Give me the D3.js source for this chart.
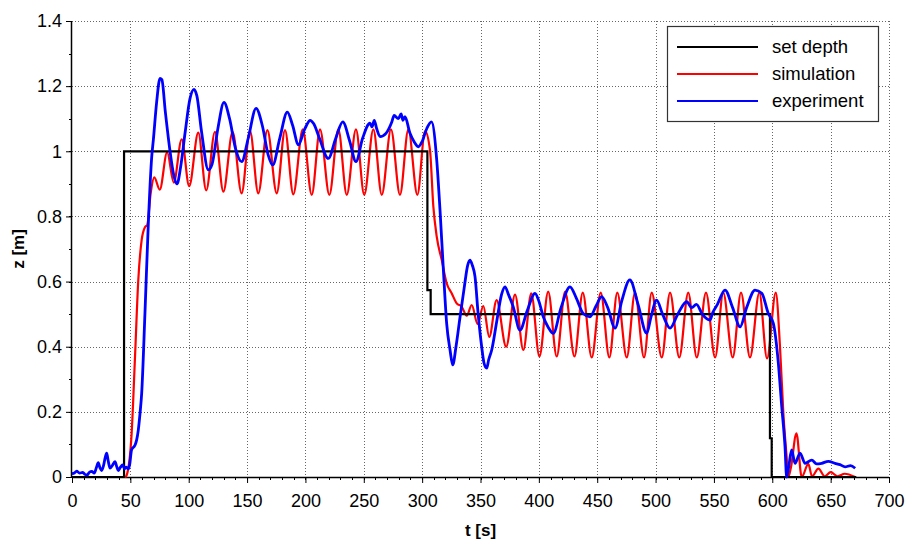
<!DOCTYPE html>
<html>
<head>
<meta charset="utf-8">
<script src="https://cdn.jsdelivr.net/npm/d3@7"></script>
<style>
  body { margin: 0; background: #fff; }
  svg { display: block; font-family: "Liberation Sans", Arial, sans-serif; }
</style>
</head>
<body>
<svg id="chart" width="908" height="543"></svg>
<script>
// set depth (step profile)
var setT = [0, 44.6, 44.6, 304.5, 304.5, 307.3, 307.3, 598, 598, 599.5, 599.5, 672];
var setZ = [0, 0, 1, 1, 0.574, 0.574, 0.5, 0.5, 0.119, 0.119, 0, 0];

// simulation
var simT = [0, 46, 46.8, 51.1, 54, 56.8, 59.7, 62.5, 64.5, 67.4, 70.5, 75.2, 81.5, 87.2, 94, 100.4,
  108.2, 115, 122.5, 129.7, 137.6, 145.3, 152.5, 159.6, 167.4, 175.4, 182.5, 189.6, 197.7, 205.4,
  212.5, 220.5, 228.2, 235.4, 243.3, 250.4, 258.2, 265.4, 273.3, 281, 288.2, 295.9, 302.5, 306.7,
  309.6, 312.5, 316.8, 321, 325.3, 329.6, 333.9, 338.2, 342.5, 347.5, 352.4, 357.5, 363.8, 372,
  379.6, 386.7, 393.5, 400.5, 408, 415.3, 422.5, 430.5, 437.6, 445.3, 453, 460.4, 467.2, 475.3,
  482.4, 490.1, 496.7, 505.3, 512.4, 520.3, 528, 535.3, 543.2, 551, 558, 566.1, 573.2, 580.9,
  588.9, 595.5, 603, 606.6, 609.5, 612.3, 613.7, 616, 620.7, 625.2, 630.9, 634, 639.5, 645, 650,
  656, 662, 671];
var simZ = [0, 0, 0.005, 0.134, 0.37, 0.605, 0.728, 0.767, 0.774, 0.871, 0.92, 0.882, 0.997, 0.904,
  1.037, 0.893, 1.057, 0.88, 1.06, 0.876, 1.06, 0.871, 1.063, 0.871, 1.065, 0.871, 1.065, 0.868,
  1.067, 0.866, 1.067, 0.866, 1.067, 0.866, 1.067, 0.866, 1.067, 0.866, 1.067, 0.866, 1.067, 0.866,
  1.062, 1.004, 0.83, 0.738, 0.666, 0.595, 0.564, 0.533, 0.523, 0.495, 0.528, 0.47, 0.525, 0.43,
  0.543, 0.40, 0.56, 0.39, 0.564, 0.37, 0.569, 0.37, 0.569, 0.37, 0.566, 0.367, 0.566, 0.367,
  0.566, 0.367, 0.566, 0.367, 0.566, 0.367, 0.566, 0.367, 0.566, 0.367, 0.566, 0.367, 0.566,
  0.367, 0.566, 0.367, 0.566, 0.364, 0.566, 0.40, 0.195, 0.062, 0.0, 0.03, 0.134, 0.0, 0.04,
  0.002, 0.026, 0.002, 0.015, 0.002, 0.01, 0];

// experiment
var expT = [0, 2, 4, 6.5, 9.3, 11, 13, 15, 17, 19, 21, 22.5, 24, 25.4, 27, 28.5, 29.7, 31, 32.6,
  34.5, 36.8, 38.5, 39.7, 41.5, 43.4, 45, 46.3, 48.3, 49.5, 51, 54, 55.4, 56.8, 58.3, 59.7, 62.5,
  65.4, 68.3, 69.7, 72.5, 75.4, 77, 80, 84, 87, 90, 93, 97, 101, 104.5, 107, 111, 116.8, 120, 125,
  130.2, 135, 140, 145.4, 151, 157.7, 163, 168, 172, 178, 184.5, 189, 194, 199, 201, 204, 207, 212,
  219.6, 226, 232, 238, 243.3, 249, 255.3, 257, 259, 261, 264, 269, 274, 276, 279.6, 282, 283.5,
  285.3, 289.6, 293, 296.7, 300, 304, 308, 312.5, 315.3, 318.2, 321, 323.9, 326.2, 329, 332.5,
  336, 339, 341, 343, 345.3, 348, 351, 353, 355.3, 357, 359.6, 364, 368, 371, 374, 378, 383.8, 390,
  396.7, 400, 403.8, 408, 412.4, 419, 426.7, 432, 438, 443.8, 449, 453.8, 459, 465.3, 471, 478,
  485, 492.4, 496, 500.9, 506, 512.4, 519, 526.7, 531, 535, 540, 546.6, 549, 553, 559.5, 566,
  572.4, 578, 585.2, 591, 596.6, 600.9, 605.2, 608.1, 610.9, 612.3, 614, 616.6, 619.5, 623.8,
  628.1, 633.8, 638, 642.3, 648, 653.8, 658, 662.4, 667, 671];
var expZ = [0.01, 0.012, 0.018, 0.012, 0.014, 0.008, 0.006, 0.015, 0.017, 0.012, 0.03, 0.044, 0.028,
  0.02, 0.035, 0.06, 0.073, 0.05, 0.027, 0.035, 0.047, 0.03, 0.02, 0.03, 0.037, 0.025, 0.03, 0.025,
  0.04, 0.083, 0.098, 0.114, 0.144, 0.196, 0.257, 0.502, 0.779, 0.983, 1.035, 1.15, 1.224, 1.22,
  1.12, 1.0, 0.93, 0.9, 0.95, 1.06, 1.16, 1.19, 1.17, 1.06, 0.943, 0.96, 1.07, 1.15, 1.1, 1.01,
  0.968, 1.04, 1.132, 1.08, 0.99, 0.958, 1.04, 1.12, 1.08, 1.02, 1.065, 1.08, 1.095, 1.085, 1.04,
  0.978, 1.04, 1.09, 1.03, 0.968, 1.04, 1.086, 1.075, 1.095, 1.07, 1.045, 1.055, 1.09, 1.11, 1.1,
  1.115, 1.095, 1.106, 1.055, 1.03, 1.014, 1.03, 1.07, 1.09, 0.973, 0.82, 0.636, 0.472, 0.39,
  0.344, 0.4, 0.492, 0.58, 0.65, 0.666, 0.65, 0.615, 0.5, 0.40, 0.35, 0.334, 0.36, 0.39, 0.48,
  0.56, 0.584, 0.56, 0.523, 0.451, 0.51, 0.564, 0.54, 0.492, 0.46, 0.441, 0.52, 0.584, 0.55,
  0.502, 0.492, 0.525, 0.554, 0.52, 0.457, 0.54, 0.605, 0.53, 0.441, 0.49, 0.543, 0.5, 0.457,
  0.5, 0.538, 0.52, 0.53, 0.5, 0.482, 0.505, 0.53, 0.574, 0.52, 0.461, 0.52, 0.574, 0.564, 0.502,
  0.472, 0.349, 0.216, 0.093, 0.0, 0.03, 0.083, 0.042, 0.073, 0.042, 0.052, 0.04, 0.042, 0.048,
  0.042, 0.038, 0.031, 0.035, 0.027];

var xTicks = [0, 50, 100, 150, 200, 250, 300, 350, 400, 450, 500, 550, 600, 650, 700];
var yTicks = [0, 0.2, 0.4, 0.6, 0.8, 1, 1.2, 1.4];
var seriesNames = ["set depth", "simulation", "experiment"];
var seriesColors = ["#000000", "#ff0000", "#0000ff"];

var svg = d3.select("#chart");
var margin = { top: 21, right: 19, bottom: 66, left: 72 };
var width = 908 - margin.left - margin.right,
    height = 543 - margin.top - margin.bottom;

var x = d3.scaleLinear().domain([0, 700]).range([0, width]);
var y = d3.scaleLinear().domain([0, 1.4]).range([height, 0]);

var g = svg.append("g").attr("transform", "translate(" + margin.left + "," + margin.top + ")");

// grid
var grid = g.append("g")
  .attr("stroke", "#666")
  .attr("stroke-width", 1)
  .attr("stroke-dasharray", "1,2");
grid.selectAll(".gx").data(xTicks.slice(1)).enter().append("line")
  .attr("x1", d => Math.round(x(d)) + 0.5).attr("x2", d => Math.round(x(d)) + 0.5)
  .attr("y1", 0).attr("y2", height);
grid.selectAll(".gy").data(yTicks.slice(1)).enter().append("line")
  .attr("y1", d => Math.round(y(d)) + 0.5).attr("y2", d => Math.round(y(d)) + 0.5)
  .attr("x1", 0).attr("x2", width);

// axes
var xMinor = d3.range(0, 701, 10);
var yMinor = d3.range(0, 1.41, 0.1);

var gx = g.append("g").attr("transform", "translate(0," + height + ")");
gx.selectAll(".mt").data(xMinor).enter().append("line")
  .attr("x1", d => Math.round(x(d)) + 0.5).attr("x2", d => Math.round(x(d)) + 0.5)
  .attr("y1", 0).attr("y2", 3).attr("stroke", "#000");
gx.call(d3.axisBottom(x).tickValues(xTicks).tickSize(6).tickPadding(11).tickFormat(d3.format("")))
  .call(a => a.select(".domain").remove());
gx.append("line").attr("x1", 0).attr("x2", width).attr("y1", 0.5).attr("y2", 0.5)
  .attr("stroke", "#000").attr("stroke-width", 1.5);

var gy = g.append("g");
gy.selectAll(".mt").data(yMinor).enter().append("line")
  .attr("y1", d => Math.round(y(d)) + 0.5).attr("y2", d => Math.round(y(d)) + 0.5)
  .attr("x1", 0).attr("x2", -3).attr("stroke", "#000");
gy.call(d3.axisLeft(y).tickValues(yTicks).tickSize(6).tickPadding(4).tickFormat(d3.format("")))
  .call(a => a.select(".domain").remove());
gy.append("line").attr("x1", -0.5).attr("x2", -0.5).attr("y1", 0).attr("y2", height)
  .attr("stroke", "#000").attr("stroke-width", 1.5);

svg.selectAll(".tick text").attr("font-size", 18).attr("fill", "#000")
  .attr("font-family", "Liberation Sans, Arial, sans-serif");

// axis labels
svg.append("text").attr("x", margin.left + width / 2).attr("y", 536)
  .attr("text-anchor", "middle").attr("font-size", 17).attr("font-weight", "bold").text("t [s]");
svg.append("text").attr("transform", "translate(24," + (margin.top + height / 2) + ") rotate(-90)")
  .attr("text-anchor", "middle").attr("font-size", 17).attr("font-weight", "bold").text("z [m]");

// lines
function series(ts, zs) { return ts.map((t, i) => [t, zs[i]]); }
var stepLine = d3.line().x(d => x(d[0])).y(d => y(d[1]));
var smoothLine = d3.line().x(d => x(d[0])).y(d => y(d[1])).curve(d3.curveMonotoneX);

g.append("path").datum(series(simT, simZ)).attr("d", smoothLine)
  .attr("fill", "none").attr("stroke", seriesColors[1]).attr("stroke-width", 2.2);
g.append("path").datum(series(setT, setZ)).attr("d", stepLine)
  .attr("fill", "none").attr("stroke", seriesColors[0]).attr("stroke-width", 2.2);
g.append("path").datum(series(expT, expZ)).attr("d", smoothLine)
  .attr("fill", "none").attr("stroke", seriesColors[2]).attr("stroke-width", 2.8)
  .attr("stroke-linejoin", "round");

// legend
var lg = svg.append("g").attr("transform", "translate(667,26)");
lg.append("rect").attr("x", 0.5).attr("y", 0.5).attr("width", 211).attr("height", 95)
  .attr("fill", "#fff").attr("stroke", "#333").attr("stroke-width", 1.2);
seriesNames.forEach(function (name, i) {
  var yy = 21 + i * 27;
  lg.append("line").attr("x1", 10).attr("x2", 91).attr("y1", yy).attr("y2", yy)
    .attr("stroke", seriesColors[i]).attr("stroke-width", 2);
  lg.append("text").attr("x", 105).attr("y", yy + 6).attr("font-size", 18.5).text(name);
});
</script>
</body>
</html>
